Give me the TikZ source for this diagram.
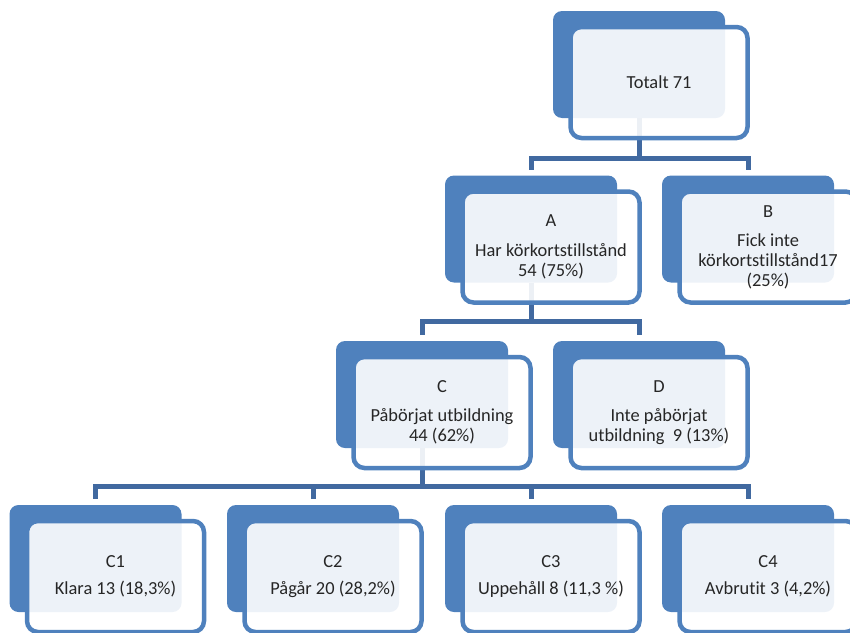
\documentclass[tikz,border=0pt]{standalone}
\usepackage{fontspec}
\setmainfont[Ligatures={NoCommon}]{Carlito}
\usetikzlibrary{backgrounds}
\definecolor{boxblue}{RGB}{79,129,189}
\definecolor{linkblue}{RGB}{65,105,160}
\tikzset{
  backbox/.style={rectangle, rounded corners=9pt, fill=boxblue, minimum width=172pt, minimum height=107pt, inner sep=0pt, outer sep=0pt},
  frontbox/.style={rectangle, rounded corners=11pt, draw=boxblue, line width=4.5pt, fill=white, fill opacity=0.9, text opacity=1, minimum width=177pt, minimum height=111pt, align=center, inner sep=2pt, outer sep=0pt, text=black!85, font=\fontsize{18.4}{20}\selectfont},
  conn/.style={draw=linkblue, line width=5pt}
}

\begin{document}
\begin{tikzpicture}[x=1pt, y=-1pt]
  \useasboundingbox (0,0) rectangle (850,632);
  \clip (0,0) rectangle (850,632);

  % Back panels
  \node[backbox] (totalt-bg) at (639,64.5) {};
  \node[backbox] (a-bg) at (531,229) {};
  \node[backbox] (b-bg) at (748,229) {};
  \node[backbox] (c-bg) at (422,394.5) {};
  \node[backbox] (d-bg) at (639,394.5) {};
  \node[backbox] (c1-bg) at (95.5,558.5) {};
  \node[backbox] (c2-bg) at (313,558.5) {};
  \node[backbox] (c3-bg) at (531,558.5) {};
  \node[backbox] (c4-bg) at (748,558.5) {};

  % Front frames with text
  \node[frontbox] (totalt) at ([shift={(20,18)}]totalt-bg) {Totalt 71};
  \node[frontbox] (a) at ([shift={(20,18)}]a-bg) {A\\[10pt]Har körkortstillstånd\\54 (75\%)};
  \node[frontbox] (b) at ([shift={(20,18)}]b-bg) {B\\[9pt]Fick inte\\körkortstillstånd17\\(25\%)};
  \node[frontbox] (c) at ([shift={(20,18)}]c-bg) {C\\[9pt]Påbörjat utbildning\\44 (62\%)};
  \node[frontbox] (d) at ([shift={(20,18)}]d-bg) {D\\[9pt]Inte påbörjat\\utbildning\ \ 9 (13\%)};
  \node[frontbox] (c1) at ([shift={(20,18)}]c1-bg) {C1\\[7pt]Klara 13 (18,3\%)};
  \node[frontbox] (c2) at ([shift={(20,18)}]c2-bg) {C2\\[7pt]Pågår 20 (28,2\%)};
  \node[frontbox] (c3) at ([shift={(20,18)}]c3-bg) {C3\\[7pt]Uppehåll 8 (11,3 \%)};
  \node[frontbox] (c4) at ([shift={(20,18)}]c4-bg) {C4\\[7pt]Avbrutit 3 (4,2\%)};

  % Connectors
  \begin{scope}[on background layer]
    \foreach \kid in {a,b}
      \draw[conn] (totalt-bg.south) -- ++(0,40) -| ([yshift=6pt]\kid-bg.north);
    \foreach \kid in {c,d}
      \draw[conn] (a-bg.south) -- ++(0,39) -| ([yshift=6pt]\kid-bg.north);
    \foreach \kid in {c1,c2,c3,c4}
      \draw[conn] (c-bg.south) -- ++(0,38) -| ([yshift=6pt]\kid-bg.north);
  \end{scope}
\end{tikzpicture}
\end{document}
